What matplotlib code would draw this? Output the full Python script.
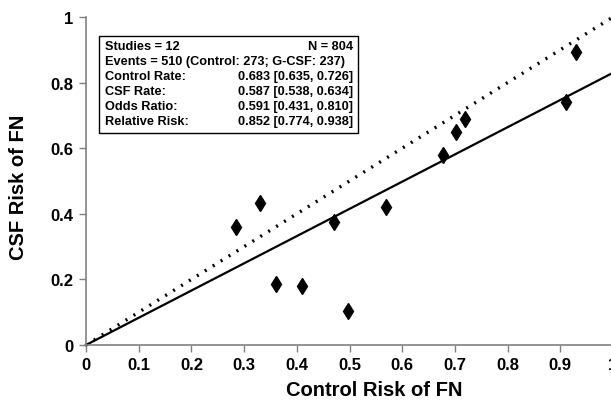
import numpy as np
import matplotlib.pyplot as plt
from matplotlib.patches import Rectangle

plt.rcParams['font.family'] = ['Liberation Sans', 'DejaVu Sans']
plt.rcParams['font.weight'] = 'bold'

# risk of FN per study
control_risk = [0.284, 0.330, 0.361, 0.410, 0.471, 0.498, 0.570, 0.677, 0.703, 0.720, 0.911, 0.929]
csf_risk = [0.360, 0.432, 0.187, 0.180, 0.376, 0.105, 0.422, 0.579, 0.649, 0.688, 0.742, 0.894]

# identity line and fitted line
diag_x = [0, 1]
diag_y = [0, 1]
fit_x = [0, 1]
fit_y = [0, 0.83]

xticks = [0, 0.1, 0.2, 0.3, 0.4, 0.5, 0.6, 0.7, 0.8, 0.9, 1]
xticklabels = ['0', '0.1', '0.2', '0.3', '0.4', '0.5', '0.6', '0.7', '0.8', '0.9', '1']
yticks = [0, 0.2, 0.4, 0.6, 0.8, 1]
yticklabels = ['0', '0.2', '0.4', '0.6', '0.8', '1']

# summary box rows: (left text, right text)
box_rows = [
    ('Studies = 12', 'N = 804'),
    ('Events = 510 (Control: 273; G-CSF: 237)', ''),
    ('Control Rate:', '0.683 [0.635, 0.726]'),
    ('CSF Rate:', '0.587 [0.538, 0.634]'),
    ('Odds Ratio:', '0.591 [0.431, 0.810]'),
    ('Relative Risk:', '0.852 [0.774, 0.938]'),
]

W, H = 611, 410
fig = plt.figure(figsize=(W / 100, H / 100), dpi=100)
# axes: x=0 at px 86, x=1 at px 613 (on the right edge), y=0 at px 346, y=1 at px 18
ax = fig.add_axes([86 / W, (H - 346) / H, 527 / W, 328 / H])


def ax_xy(px, py):
    # pixel position in the picture -> axes fraction
    return (px - 86) / 527, (346 - py) / 328


ax.plot(diag_x, diag_y, color='black', lw=2.4, ls=(0, (0.6, 2.2)),
        dash_capstyle='butt', clip_on=False)
ax.plot(fit_x, fit_y, color='black', lw=1.6, clip_on=False)
ax.plot(control_risk, csf_risk, ls='none', marker='d', ms=8.5,
        color='black', clip_on=False)

ax.set_xlim(0, 1)
ax.set_ylim(0, 1)
ax.set_xticks(xticks)
ax.set_xticklabels(xticklabels)
ax.set_yticks(yticks)
ax.set_yticklabels(yticklabels)
ax.tick_params(axis='both', direction='out', length=5, width=1, color='#808080',
               labelsize=12, pad=4)
for lab in ax.get_xticklabels() + ax.get_yticklabels():
    lab.set_fontweight('bold')

for s in ['top', 'right']:
    ax.spines[s].set_visible(False)
for s in ['left', 'bottom']:
    ax.spines[s].set_color('#808080')
    ax.spines[s].set_linewidth(1.2)

ax.set_xlabel('Control Risk of FN', fontsize=14.5, fontweight='bold')
ax.xaxis.set_label_coords(*ax_xy(374, 391))
ax.xaxis.label.set_va('center')
ax.set_ylabel('CSF Risk of FN', fontsize=14.5, fontweight='bold')
ax.yaxis.set_label_coords(*ax_xy(18, 187))
ax.yaxis.label.set_va('center')

# summary box
x0, y0 = ax_xy(99, 134)
x1, y1 = ax_xy(358, 37)
ax.add_patch(Rectangle((x0, y0), x1 - x0, y1 - y0, transform=ax.transAxes,
                       fill=True, facecolor='white', edgecolor='black', lw=1.0,
                       clip_on=False, zorder=5))
row_top = 47
row_step = 15
for i, (left, right) in enumerate(box_rows):
    py = row_top + i * row_step
    lx, ly = ax_xy(105, py)
    rx, _ = ax_xy(353, py)
    ax.text(lx, ly, left, transform=ax.transAxes, fontsize=9.2, fontweight='bold',
            ha='left', va='center', zorder=6)
    if right:
        ax.text(rx, ly, right, transform=ax.transAxes, fontsize=9.2, fontweight='bold',
                ha='right', va='center', zorder=6)

fig.savefig('out.png', dpi=100)
